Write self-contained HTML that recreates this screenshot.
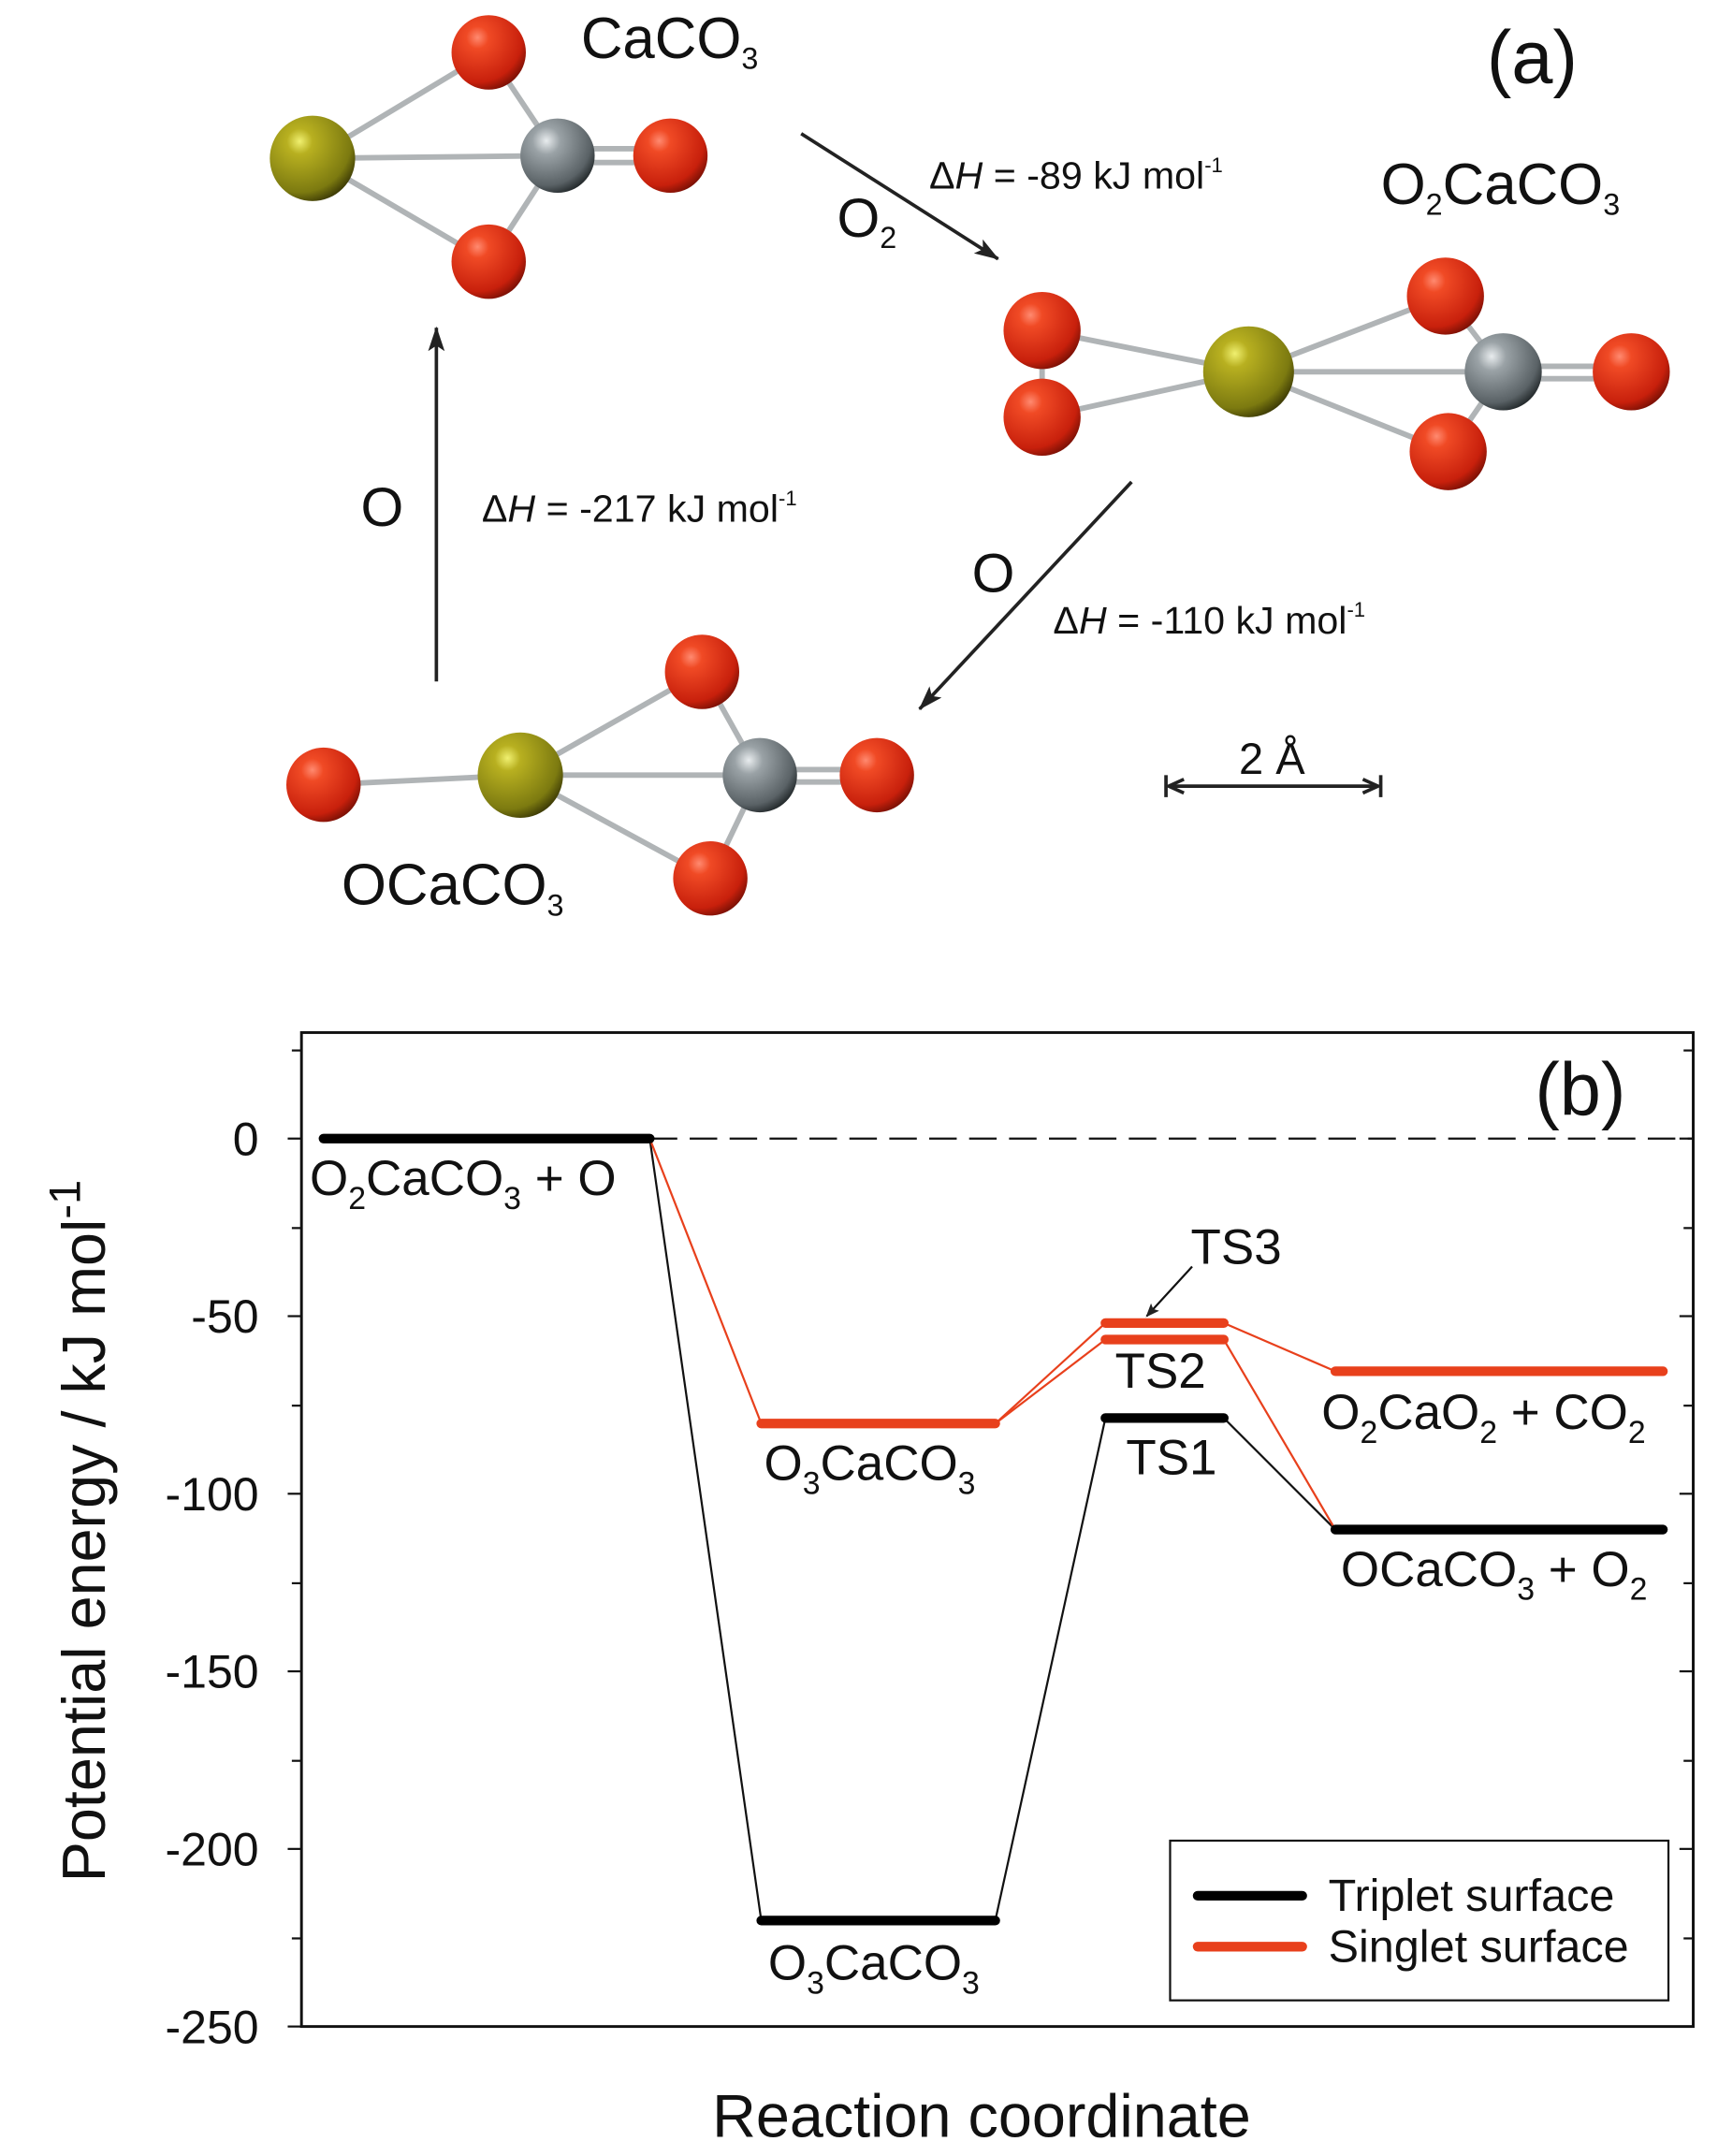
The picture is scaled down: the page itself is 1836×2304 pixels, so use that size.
<!DOCTYPE html>
<html><head><meta charset="utf-8"><style>html,body{margin:0;padding:0;background:#fff}svg{display:block}</style></head>
<body>
<svg width="1836" height="2304" viewBox="0 0 1248 1566" xmlns="http://www.w3.org/2000/svg" font-family="Liberation Sans, sans-serif">
<defs>
<radialGradient id="gO" cx="0.35" cy="0.3" r="0.75"><stop offset="0" stop-color="#ff8a70"/><stop offset="0.2" stop-color="#f04a25"/><stop offset="0.8" stop-color="#c8200c"/><stop offset="1" stop-color="#7a1005"/></radialGradient>
<radialGradient id="gCa" cx="0.35" cy="0.3" r="0.75"><stop offset="0" stop-color="#f0f070"/><stop offset="0.2" stop-color="#b8b020"/><stop offset="0.8" stop-color="#7c7a10"/><stop offset="1" stop-color="#3c3a05"/></radialGradient>
<radialGradient id="gC" cx="0.35" cy="0.3" r="0.75"><stop offset="0" stop-color="#e8ecee"/><stop offset="0.25" stop-color="#9aa2a6"/><stop offset="0.8" stop-color="#5a6266"/><stop offset="1" stop-color="#22282a"/></radialGradient>
<marker id="ah" markerWidth="10" markerHeight="8" refX="9" refY="4" orient="auto" markerUnits="userSpaceOnUse" viewBox="0 0 10 8"><path d="M0,0 L10,4 L0,8 L2,4 z" fill="#222"/></marker>
<marker id="ahb" markerWidth="18" markerHeight="12" refX="17" refY="6" orient="auto" markerUnits="userSpaceOnUse"><path d="M0,0 L18,6 L0,12 L4,6 z" fill="#222"/></marker>
</defs>
<g stroke="#b0b4b6" stroke-width="4">
<line x1="227" y1="115" x2="355" y2="38"/><line x1="227" y1="115" x2="405" y2="113"/><line x1="227" y1="115" x2="355" y2="190"/>
<line x1="405" y1="113" x2="355" y2="38"/><line x1="405" y1="113" x2="355" y2="190"/>
<line x1="405" y1="108" x2="487" y2="108"/><line x1="405" y1="118" x2="487" y2="118"/>
<line x1="757" y1="240" x2="907" y2="270"/><line x1="757" y1="303" x2="907" y2="270"/><line x1="757" y1="240" x2="757" y2="303"/>
<line x1="907" y1="270" x2="1092" y2="270"/><line x1="907" y1="270" x2="1050" y2="215"/><line x1="907" y1="270" x2="1052" y2="328"/>
<line x1="1092" y1="270" x2="1050" y2="215"/><line x1="1092" y1="270" x2="1052" y2="328"/><line x1="1092" y1="266" x2="1185" y2="266"/><line x1="1092" y1="275" x2="1185" y2="275"/>
<line x1="235" y1="570" x2="378" y2="563"/><line x1="378" y1="563" x2="552" y2="563"/><line x1="378" y1="563" x2="510" y2="488"/><line x1="378" y1="563" x2="516" y2="638"/>
<line x1="552" y1="563" x2="510" y2="488"/><line x1="552" y1="563" x2="516" y2="638"/><line x1="552" y1="559" x2="637" y2="559"/><line x1="552" y1="568" x2="637" y2="568"/>
</g>
<g>
<circle cx="355" cy="38" r="27" fill="url(#gO)"/><circle cx="355" cy="190" r="27" fill="url(#gO)"/><circle cx="405" cy="113" r="27" fill="url(#gC)"/><circle cx="487" cy="113" r="27" fill="url(#gO)"/><circle cx="227" cy="115" r="31" fill="url(#gCa)"/>
<circle cx="757" cy="240" r="28" fill="url(#gO)"/><circle cx="757" cy="303" r="28" fill="url(#gO)"/><circle cx="907" cy="270" r="33" fill="url(#gCa)"/><circle cx="1092" cy="270" r="28" fill="url(#gC)"/><circle cx="1050" cy="215" r="28" fill="url(#gO)"/><circle cx="1185" cy="270" r="28" fill="url(#gO)"/><circle cx="1052" cy="328" r="28" fill="url(#gO)"/>
<circle cx="235" cy="570" r="27" fill="url(#gO)"/><circle cx="378" cy="563" r="31" fill="url(#gCa)"/><circle cx="552" cy="563" r="27" fill="url(#gC)"/><circle cx="510" cy="488" r="27" fill="url(#gO)"/><circle cx="637" cy="563" r="27" fill="url(#gO)"/><circle cx="516" cy="638" r="27" fill="url(#gO)"/>
</g>
<g stroke="#222" stroke-width="2.5" fill="none">
<line x1="582" y1="97" x2="725" y2="188" marker-end="url(#ahb)"/>
<line x1="822" y1="350" x2="668" y2="515" marker-end="url(#ahb)"/>
<line x1="317" y1="495" x2="317" y2="238" marker-end="url(#ahb)"/>
<line x1="849" y1="571" x2="1001" y2="571"/><line x1="847" y1="563" x2="847" y2="579"/><line x1="1003" y1="563" x2="1003" y2="579"/>
<path d="M860,566 L849,571 L860,576" /><path d="M990,566 L1001,571 L990,576"/>
</g>
<g fill="#111">
<text x="422" y="42" font-size="42">CaCO<tspan font-size="22" dy="8">3</tspan></text>
<text x="1080" y="60" font-size="54">(a)</text>
<text x="608" y="172" font-size="40">O<tspan font-size="22" dy="8">2</tspan></text>
<text x="675" y="137" font-size="28">Δ<tspan font-style="italic">H</tspan> = -89 kJ mol<tspan font-size="15" dy="-12">-1</tspan></text>
<text x="1003" y="148" font-size="42">O<tspan font-size="22" dy="8">2</tspan><tspan dy="-8">CaCO</tspan><tspan font-size="22" dy="8">3</tspan></text>
<text x="706" y="430" font-size="40">O</text>
<text x="765" y="460" font-size="28">Δ<tspan font-style="italic">H</tspan> = -110 kJ mol<tspan font-size="15" dy="-12">-1</tspan></text>
<text x="262" y="382" font-size="40">O</text>
<text x="350" y="379" font-size="28">Δ<tspan font-style="italic">H</tspan> = -217 kJ mol<tspan font-size="15" dy="-12">-1</tspan></text>
<text x="248" y="657" font-size="42">OCaCO<tspan font-size="22" dy="8">3</tspan></text>
<text x="900" y="562" font-size="32">2 Å</text>
</g>
<rect x="219" y="750" width="1011" height="722" fill="none" stroke="#111" stroke-width="2"/>
<g stroke="#111" stroke-width="1.5">
<line x1="209" y1="827" x2="219" y2="827"/><line x1="209" y1="956" x2="219" y2="956"/><line x1="209" y1="1085" x2="219" y2="1085"/><line x1="209" y1="1214" x2="219" y2="1214"/><line x1="209" y1="1343" x2="219" y2="1343"/><line x1="209" y1="1472" x2="219" y2="1472"/>
<line x1="212" y1="763" x2="219" y2="763"/><line x1="212" y1="892" x2="219" y2="892"/><line x1="212" y1="1021" x2="219" y2="1021"/><line x1="212" y1="1150" x2="219" y2="1150"/><line x1="212" y1="1279" x2="219" y2="1279"/><line x1="212" y1="1408" x2="219" y2="1408"/>
<line x1="1220" y1="827" x2="1230" y2="827"/><line x1="1220" y1="956" x2="1230" y2="956"/><line x1="1220" y1="1085" x2="1230" y2="1085"/><line x1="1220" y1="1214" x2="1230" y2="1214"/><line x1="1220" y1="1343" x2="1230" y2="1343"/>
<line x1="1223" y1="763" x2="1230" y2="763"/><line x1="1223" y1="892" x2="1230" y2="892"/><line x1="1223" y1="1021" x2="1230" y2="1021"/><line x1="1223" y1="1150" x2="1230" y2="1150"/><line x1="1223" y1="1279" x2="1230" y2="1279"/><line x1="1223" y1="1408" x2="1230" y2="1408"/>
</g>
<g font-size="34" text-anchor="end" fill="#111">
<text x="188" y="839">0</text><text x="188" y="968">-50</text><text x="188" y="1097">-100</text><text x="188" y="1226">-150</text><text x="188" y="1355">-200</text><text x="188" y="1484">-250</text>
</g>
<line x1="472" y1="827" x2="1230" y2="827" stroke="#111" stroke-width="1.5" stroke-dasharray="20,9"/>
<g stroke="#111" stroke-width="1.5">
<line x1="472" y1="827" x2="553" y2="1395"/><line x1="723" y1="1395" x2="803" y2="1030"/><line x1="889" y1="1030" x2="970" y2="1111"/>
</g>
<g stroke="#e8401c" stroke-width="1.5">
<line x1="472" y1="827" x2="553" y2="1034"/><line x1="723" y1="1034" x2="803" y2="973"/><line x1="723" y1="1034" x2="803" y2="961"/><line x1="889" y1="961" x2="970" y2="996"/><line x1="889" y1="973" x2="970" y2="1111"/>
</g>
<g stroke-width="7" stroke-linecap="round">
<line x1="235" y1="827" x2="472" y2="827" stroke="#000"/>
<line x1="553" y1="1395" x2="723" y2="1395" stroke="#000"/>
<line x1="803" y1="1030" x2="889" y2="1030" stroke="#000"/>
<line x1="970" y1="1111" x2="1208" y2="1111" stroke="#000"/>
<line x1="553" y1="1034" x2="723" y2="1034" stroke="#e8401c"/>
<line x1="803" y1="973" x2="889" y2="973" stroke="#e8401c"/>
<line x1="803" y1="961" x2="889" y2="961" stroke="#e8401c"/>
<line x1="970" y1="996" x2="1208" y2="996" stroke="#e8401c"/>
</g>
<line x1="866" y1="920" x2="833" y2="956" stroke="#111" stroke-width="1.5" marker-end="url(#ah)"/>
<g font-size="36" fill="#111">
<text x="225" y="868">O<tspan font-size="23" dy="10">2</tspan><tspan dy="-10">CaCO</tspan><tspan font-size="23" dy="10">3</tspan><tspan dy="-10"> + O</tspan></text>
<text x="555" y="1075">O<tspan font-size="23" dy="10">3</tspan><tspan dy="-10">CaCO</tspan><tspan font-size="23" dy="10">3</tspan></text>
<text x="558" y="1438">O<tspan font-size="23" dy="10">3</tspan><tspan dy="-10">CaCO</tspan><tspan font-size="23" dy="10">3</tspan></text>
<text x="865" y="918">TS3</text>
<text x="810" y="1008">TS2</text>
<text x="818" y="1071">TS1</text>
<text x="960" y="1038">O<tspan font-size="23" dy="10">2</tspan><tspan dy="-10">CaO</tspan><tspan font-size="23" dy="10">2</tspan><tspan dy="-10"> + CO</tspan><tspan font-size="23" dy="10">2</tspan></text>
<text x="974" y="1152">OCaCO<tspan font-size="23" dy="10">3</tspan><tspan dy="-10"> + O</tspan><tspan font-size="23" dy="10">2</tspan></text>
<text x="1115" y="810" font-size="54">(b)</text>
</g>
<rect x="850" y="1337" width="362" height="116" fill="#fff" stroke="#111" stroke-width="1.5"/>
<line x1="870" y1="1377" x2="946" y2="1377" stroke="#000" stroke-width="7" stroke-linecap="round"/>
<line x1="870" y1="1414" x2="946" y2="1414" stroke="#e8401c" stroke-width="7" stroke-linecap="round"/>
<text x="965" y="1388" font-size="33" fill="#111">Triplet surface</text>
<text x="965" y="1425" font-size="33" fill="#111">Singlet surface</text>
<text x="713" y="1552" font-size="44" text-anchor="middle" fill="#111">Reaction coordinate</text>
<text transform="translate(76,1112) rotate(-90)" font-size="44" text-anchor="middle" fill="#111">Potential energy / kJ mol<tspan font-size="32" dy="-18">-1</tspan></text>
</svg>
</body></html>
